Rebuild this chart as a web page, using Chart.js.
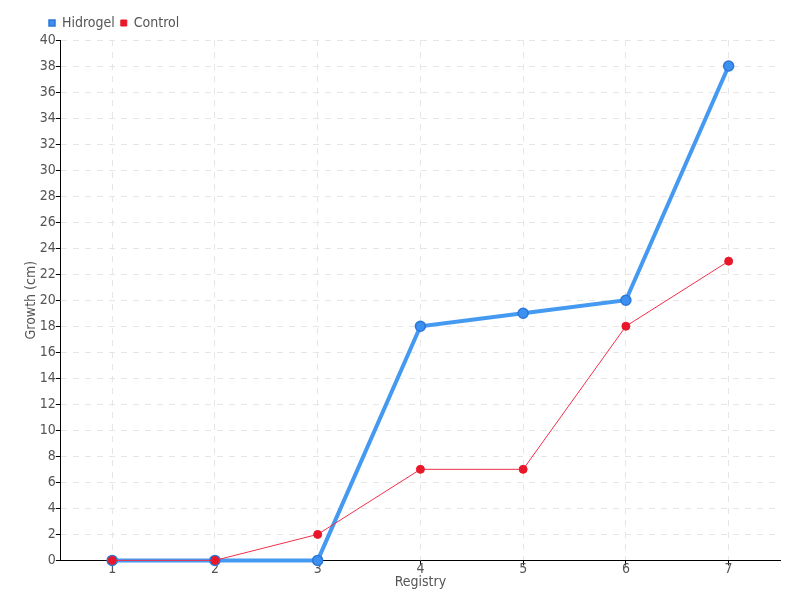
<!DOCTYPE html>
<html><head><meta charset="utf-8">
<script src="https://cdn.jsdelivr.net/npm/chart.js@4/dist/chart.umd.min.js"></script>
<style>html,body{margin:0;padding:0;background:#fff}#w{width:800px;height:600px}</style>
</head><body><div id="w"><canvas id="c" width="800" height="600"></canvas></div>
<script>
const categories = ["1","2","3","4","5","6","7"];
const hidrogel = [0, 0, 0, 18, 19, 20, 38];
const control = [0, 0, 2, 7, 7, 18, 23];
const yMin = 0, yMax = 40, yStep = 2;

const FONT = '"DejaVu Sans Condensed", "Liberation Sans Narrow", sans-serif';
Chart.defaults.font.family = FONT;
Chart.defaults.font.size = 14;
Chart.defaults.color = '#555';

const legendShift = {
  id: 'legendShift',
  afterLayout(chart) {
    if (chart.legend) { chart.legend.left += 20; chart.legend.right += 20; }
  }
};

new Chart(document.getElementById('c'), {
  type: 'line',
  plugins: [legendShift],
  data: {
    labels: categories,
    datasets: [
      {label: 'Hidrogel', data: hidrogel, borderColor: '#4499f0', backgroundColor: '#3388ee',
       borderWidth: 4, pointRadius: 5, pointHoverRadius: 5, pointBackgroundColor: '#3d8ff0',
       pointBorderColor: '#2a78d8', pointBorderWidth: 1.5, tension: 0, order: 5, clip: false},
      {label: 'Control', data: control, borderColor: '#f0304a', backgroundColor: '#ee1c2e',
       borderWidth: 1, pointRadius: 4, pointHoverRadius: 4, pointBackgroundColor: '#e8182a',
       pointBorderColor: '#e8182a', pointBorderWidth: 1, tension: 0, order: 0, clip: false}
    ]
  },
  options: {
    responsive: false, animation: false,
    layout: {padding: {left: 23, right: 20, top: 10, bottom: 9}},
    plugins: {
      legend: {position: 'top', align: 'start',
        labels: {usePointStyle: true, pointStyle: 'rect', boxWidth: 6, boxHeight: 6, padding: 6,
          sort: (a, b) => a.datasetIndex - b.datasetIndex,
          font: {size: 14, family: FONT}, color: '#555'}},
      tooltip: {enabled: false}
    },
    scales: {
      x: {
        offset: true,
        title: {display: true, text: 'Registry', font: {size: 14}, color: '#555', padding: {top: 0, bottom: 0}},
        grid: {color: '#e6e6e6', tickColor: '#000', tickLength: 5, offset: false},
        border: {color: '#000', dash: [6, 6]},
        ticks: {padding: -4, color: '#555'}
      },
      y: {
        min: yMin, max: yMax,
        title: {display: true, text: 'Growth (cm)', font: {size: 14}, color: '#555', padding: 0},
        grid: {color: '#e6e6e6', tickColor: '#000', tickLength: 5},
        border: {color: '#000', dash: [6, 6]},
        ticks: {stepSize: yStep, padding: 0, color: '#555'}
      }
    }
  }
});
</script></body></html>
